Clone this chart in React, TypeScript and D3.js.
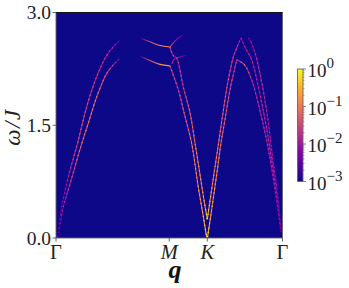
import React from 'react';
import * as d3 from 'd3';

// [q, omega, log10 intensity], q is a fraction of the path
const branchA = [[.006,.01,-3],[.025,.41,-2.7],[.054,.81,-2.2],[.094,1.25,-1.8],[.136,1.75,-1.8],[.18,2.15,-1.9],[.224,2.43,-2.1],[.252,2.54,-2.2],[.279,2.62,-2.7]];
const branchB = [[.01,.01,-3],[.032,.41,-2.3],[.062,.72,-1.9],[.113,1.25,-1.5],[.143,1.53,-1.4],[.18,1.88,-1.5],[.224,2.19,-1.7],[.252,2.3,-2],[.279,2.38,-2.6]];
const branchC = [[.371,2.66,-2.8],[.415,2.61,-1.5],[.459,2.56,-.9],[.503,2.54,-.8]];
const branchD = [[.371,2.42,-2.8],[.415,2.36,-1.4],[.459,2.31,-.8],[.503,2.29,-.7]];
const branchE = [[.503,2.54,-1.4],[.525,2.62,-2],[.545,2.67,-2.2],[.562,2.7,-2.8]];
const branchF = [[.511,2.32,-1.7],[.525,2.39,-2],[.547,2.41,-2.2],[.577,2.43,-2.8]];
const branchG = [[.503,2.54,-1.7],[.517,2.43,-2],[.533,2.39,-2],[.562,2.01,-1.9],[.592,1.66,-1.6],[.614,1.26,-1.4],[.636,.84,-1.2],[.652,.53,-1.1],[.668,.25,-.6]];
const branchH = [[.503,2.29,-1.7],[.54,1.97,-1.9],[.57,1.61,-1.6],[.599,1.26,-1.4],[.627,.7,-1.2],[.649,.31,-1],[.665,.01,-.4]];
const branchI = [[.669,.01,-.4],[.684,.31,-1],[.712,.9,-1.2],[.728,1.25,-1.4],[.748,1.61,-1.6],[.768,1.97,-1.8],[.798,2.37,-2]];
const branchJ = [[.668,.25,-.6],[.69,.7,-1.2],[.717,1.25,-1.4],[.737,1.66,-1.6],[.758,2.06,-1.8],[.783,2.41,-1.9],[.798,2.53,-2],[.817,2.66,-2.4]];
const branchK = [[.798,2.37,-2],[.827,2.32,-1.5],[.842,2.26,-1.8],[.864,2.1,-2.1],[.872,2.03,-2.1],[.91,1.57,-2.1],[.94,1.14,-2.1],[.967,.64,-2.4],[.993,.08,-2.8]];
const branchL = [[.817,2.66,-2.4],[.834,2.54,-2.2],[.864,2.37,-2.1],[.892,2.03,-2.2],[.923,1.57,-2.1],[.949,1.1,-2.1],[.971,.64,-2.3],[.993,.08,-2.8]];
const branchM = [[.849,2.66,-2.7],[.857,2.63,-2.4],[.879,2.46,-2.2],[.896,2.25,-2],[.911,2.03,-2.1],[.936,1.57,-2.2],[.955,1.1,-2.3],[.976,.64,-2.5],[.995,.08,-2.8]];
const branches = [branchA, branchB, branchC, branchD, branchE, branchF, branchG, branchH, branchI, branchJ, branchK, branchL, branchM];
const speckled = [branchA, branchB, branchG, branchH, branchI, branchJ, branchK, branchL, branchM];

const yTicks = [0, 1.5, 3];
const qTicks = [0, .5, .668, 1];
const qLabels = ['Γ', 'M', 'K', 'Γ'];
const cbExponents = [0, -1, -2, -3];

const serif = '"Liberation Serif", serif';
const axisColor = '#666';

const x = d3.scaleLinear().domain([0, 1]).range([56, 282.5]);
const y = d3.scaleLinear().domain([0, 3]).range([238, 12.5]);
const cb = d3.scaleLog().domain([1e-3, 1]).range([181.5, 69]);
const color = (l: number) => d3.interpolatePlasma((l + 3) / 3);

const line = d3.line<number[]>().x(d => x(d[0])).y(d => y(d[1])).curve(d3.curveCatmullRom.alpha(0.5));

const Gradient = ({ id, pts, boost }: { id: string; pts: number[][]; boost: number }) => {
  const a = pts[0];
  const b = pts[pts.length - 1];
  const x1 = x(a[0]), y1 = y(a[1]), x2 = x(b[0]), y2 = y(b[1]);
  const len = (x2 - x1) ** 2 + (y2 - y1) ** 2;
  return (
    <linearGradient id={id} gradientUnits="userSpaceOnUse" x1={x1} y1={y1} x2={x2} y2={y2}>
      {pts.map((p, i) => (
        <stop key={i}
          offset={((x(p[0]) - x1) * (x2 - x1) + (y(p[1]) - y1) * (y2 - y1)) / len}
          stopColor={color(Math.min(0, p[2] + boost))} />
      ))}
    </linearGradient>
  );
};

export default function App() {
  const minor = cb.ticks().filter(t => !cbExponents.includes(Math.round(Math.log10(t) * 1000) / 1000));
  return (
    <svg width={349} height={288} style={{ position: 'absolute', left: 0, top: 0 }} fontFamily={serif}>
      <defs>
        {branches.map((b, i) => <Gradient key={i} id={`branch-${i}`} pts={b} boost={0} />)}
        {speckled.map((b, i) => <Gradient key={i} id={`speck-${i}`} pts={b} boost={0.6} />)}
        <linearGradient id="cbar" x1="0" y1="1" x2="0" y2="0">
          {d3.range(0, 1.01, 0.05).map(t => <stop key={t} offset={t} stopColor={d3.interpolatePlasma(t)} />)}
        </linearGradient>
        <clipPath id="plot"><rect x={56} y={12.5} width={226.5} height={225.5} /></clipPath>
        <filter id="soft" x="-20%" y="-20%" width="140%" height="140%"><feGaussianBlur stdDeviation="0.3" /></filter>
      </defs>

      <rect x={56} y={12.5} width={226.5} height={225.5} fill={d3.interpolatePlasma(0)} />
      <g clipPath="url(#plot)" filter="url(#soft)" fill="none">
        {branches.map((b, i) => (
          <path key={i} d={line(b) ?? ''} stroke={`url(#branch-${i})`} strokeWidth={1.1} />
        ))}
        {speckled.map((b, i) => (
          <path key={i} d={line(b) ?? ''} stroke={`url(#speck-${i})`} strokeWidth={1.1} strokeDasharray="1.3 3.1" />
        ))}
      </g>
      <rect x={56} y={12.5} width={226.5} height={225.5} fill="none" stroke={axisColor} strokeWidth={0.9} />
      <line x1={56} x2={282.5} y1={12.5} y2={12.5} stroke="#111" strokeWidth={0.9} />

      {yTicks.map(t => (
        <g key={t}>
          <line x1={52.5} x2={56} y1={y(t)} y2={y(t)} stroke={axisColor} />
          <text x={51} y={y(t) + 6.5} textAnchor="end" fontSize={19.5} fill="#222">{t.toFixed(1)}</text>
        </g>
      ))}
      {qTicks.map((t, i) => (
        <g key={i}>
          <line x1={x(t)} x2={x(t)} y1={238} y2={241.5} stroke={axisColor} />
          <text x={x(t)} y={259} textAnchor="middle" fontSize={20.5} fill="#222"
            fontStyle={qLabels[i] === 'Γ' ? 'normal' : 'italic'}>{qLabels[i]}</text>
        </g>
      ))}
      <text x={175} y={278} textAnchor="middle" fontSize={26} fontWeight="bold" fontStyle="italic" fill="#111">q</text>
      <text transform="translate(20,127) rotate(-90)" textAnchor="middle" fontSize={23} fontStyle="italic" letterSpacing={1.5} fill="#222">ω/J</text>

      <rect x={297.5} y={69} width={5.5} height={112.5} fill="url(#cbar)" stroke={axisColor} strokeWidth={0.9} />
      {minor.map(t => (
        <line key={t} x1={303} x2={304.5} y1={cb(t)} y2={cb(t)} stroke={axisColor} strokeWidth={0.6} />
      ))}
      {cbExponents.map(e => (
        <g key={e}>
          <line x1={303} x2={306} y1={cb(10 ** e)} y2={cb(10 ** e)} stroke={axisColor} strokeWidth={0.8} />
          <text x={307.5} y={cb(10 ** e) + 8} fontSize={19} fill="#222">
            10<tspan dy={-9} fontSize={15}>{e === 0 ? '0' : `−${-e}`}</tspan>
          </text>
        </g>
      ))}
    </svg>
  );
}
